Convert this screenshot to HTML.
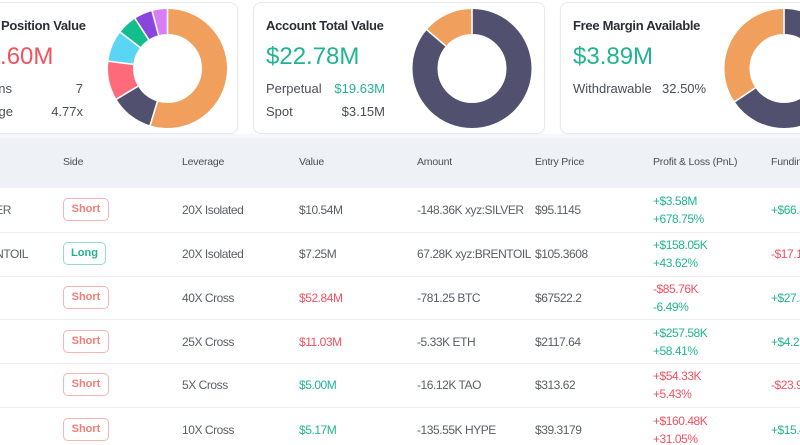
<!DOCTYPE html>
<html>
<head>
<meta charset="utf-8">
<style>
*{margin:0;padding:0;box-sizing:border-box;}
html,body{width:800px;height:445px;overflow:hidden;background:#fff;}
body{position:relative;font-family:"Liberation Sans",sans-serif;color:#555a63;}
.abs{position:absolute;white-space:nowrap;}
.card{position:absolute;top:2px;height:132px;width:292px;border:1px solid #e7e9ee;border-radius:8px;background:#fff;box-shadow:0 1px 2px rgba(0,0,0,0.03);}
.title{font-size:13px;font-weight:bold;color:#2b2e35;letter-spacing:-0.3px;}
.big{font-size:24px;}
.lbl{font-size:13px;color:#4a4e57;}
.hdr{position:absolute;left:0;top:138px;width:800px;height:50px;background:#eef1f5;}
.h{font-size:10.5px;color:#4a4f58;top:156px;letter-spacing:-0.2px;}
.sep{position:absolute;left:0;width:800px;height:1px;background:#eceef1;}
.t{font-size:12px;color:#5a5e66;letter-spacing:-0.45px;}
.abs.green,.t.green,.lbl.green{color:#22b393;}
.abs.red,.t.red,.lbl.red{color:#f2515f;}
.badge{position:absolute;left:63px;width:46px;height:23px;border:1px solid #f6b5b0;border-radius:5px;color:#f27d75;font-size:11px;font-weight:bold;text-align:center;line-height:21px;}
.badge.long{width:43px;border-color:#93dccb;color:#25b08f;}
</style>
</head>
<body>
<!-- cards -->
<div class="card" style="left:-54px;"></div>
<div class="card" style="left:253px;"></div>
<div class="card" style="left:560px;"></div>

<!-- strip between -->
<div class="abs" style="left:0;top:134px;width:800px;height:4px;background:#f5f7fa;"></div>

<!-- card 1 text -->
<div class="abs title" style="left:1px;top:18px;">Position Value</div>
<div class="abs big red" style="left:-40px;top:43px;">$21.60M</div>
<div class="abs lbl" style="right:788px;top:81px;">Positions</div>
<div class="abs lbl" style="right:717px;top:81px;">7</div>
<div class="abs lbl" style="right:787px;top:104px;">Avg Leverage</div>
<div class="abs lbl" style="right:717px;top:104px;">4.77x</div>

<!-- card 2 text -->
<div class="abs title" style="left:266px;top:18px;">Account Total Value</div>
<div class="abs big green" style="left:266px;top:43px;">$22.78M</div>
<div class="abs lbl" style="left:266px;top:81px;">Perpetual</div>
<div class="abs lbl green" style="right:415px;top:81px;">$19.63M</div>
<div class="abs lbl" style="left:266px;top:104px;">Spot</div>
<div class="abs lbl" style="right:415px;top:104px;">$3.15M</div>

<!-- card 3 text -->
<div class="abs title" style="left:573px;top:18px;">Free Margin Available</div>
<div class="abs big green" style="left:573px;top:43px;">$3.89M</div>
<div class="abs lbl" style="left:573px;top:81px;">Withdrawable</div>
<div class="abs lbl" style="left:662px;top:81px;">32.50%</div>

<!-- donuts -->
<svg class="abs" style="left:0;top:0;" width="800" height="140" viewBox="0 0 800 140">
  <g fill="none" stroke-width="25">
    <g transform="rotate(-90 167.5 68.5)">
      <circle cx="167.5" cy="68.5" r="47" stroke="#f0a05c" stroke-dasharray="161.6 295.31" stroke-dashoffset="0"/>
      <circle cx="167.5" cy="68.5" r="47" stroke="#51516f" stroke-dasharray="34.45 295.31" stroke-dashoffset="-161.6"/>
      <circle cx="167.5" cy="68.5" r="47" stroke="#ff6b7a" stroke-dasharray="31.17 295.31" stroke-dashoffset="-196.05"/>
      <circle cx="167.5" cy="68.5" r="47" stroke="#5ad6f4" stroke-dasharray="25.02 295.31" stroke-dashoffset="-227.22"/>
      <circle cx="167.5" cy="68.5" r="47" stroke="#12bf8c" stroke-dasharray="16.0 295.31" stroke-dashoffset="-252.24"/>
      <circle cx="167.5" cy="68.5" r="47" stroke="#8a45df" stroke-dasharray="14.77 295.31" stroke-dashoffset="-268.24"/>
      <circle cx="167.5" cy="68.5" r="47" stroke="#d77df5" stroke-dasharray="12.31 295.31" stroke-dashoffset="-283.0"/>
    </g>
    <g transform="rotate(-90 472 68.5)">
      <circle cx="472" cy="68.5" r="47" stroke="#51516f" stroke-dasharray="254.8 295.31" stroke-dashoffset="0"/>
      <circle cx="472" cy="68.5" r="47" stroke="#f0a05c" stroke-dasharray="40.51 295.31" stroke-dashoffset="-254.8"/>
    </g>
    <g transform="rotate(-90 784 68.5)">
      <circle cx="784" cy="68.5" r="47" stroke="#51516f" stroke-dasharray="193.6 295.31" stroke-dashoffset="0"/>
      <circle cx="784" cy="68.5" r="47" stroke="#f0a05c" stroke-dasharray="101.71 295.31" stroke-dashoffset="-193.6"/>
    </g>
  </g>
  <g stroke="#fff" stroke-width="1.6">
    <line x1="167.5" y1="34" x2="167.5" y2="8" transform="rotate(0 167.5 68.5)"/>
    <line x1="167.5" y1="34" x2="167.5" y2="8" transform="rotate(197 167.5 68.5)"/>
    <line x1="167.5" y1="34" x2="167.5" y2="8" transform="rotate(239 167.5 68.5)"/>
    <line x1="167.5" y1="34" x2="167.5" y2="8" transform="rotate(277 167.5 68.5)"/>
    <line x1="167.5" y1="34" x2="167.5" y2="8" transform="rotate(307.5 167.5 68.5)"/>
    <line x1="167.5" y1="34" x2="167.5" y2="8" transform="rotate(327 167.5 68.5)"/>
    <line x1="167.5" y1="34" x2="167.5" y2="8" transform="rotate(345 167.5 68.5)"/>
    <line x1="472" y1="34" x2="472" y2="8" transform="rotate(0 472 68.5)"/>
    <line x1="472" y1="34" x2="472" y2="8" transform="rotate(310.6 472 68.5)"/>
    <line x1="784" y1="34" x2="784" y2="8" transform="rotate(0 784 68.5)"/>
    <line x1="784" y1="34" x2="784" y2="8" transform="rotate(236 784 68.5)"/>
  </g>
</svg>

<!-- table header -->
<div class="hdr"></div>
<div class="abs h" style="left:63px;">Side</div>
<div class="abs h" style="left:182px;">Leverage</div>
<div class="abs h" style="left:299px;">Value</div>
<div class="abs h" style="left:417px;">Amount</div>
<div class="abs h" style="left:535px;">Entry Price</div>
<div class="abs h" style="left:653px;">Profit &amp; Loss (PnL)</div>
<div class="abs h" style="left:771px;">Funding</div>

<!-- separators -->
<div class="sep" style="top:232px;"></div>
<div class="sep" style="top:276px;"></div>
<div class="sep" style="top:319px;"></div>
<div class="sep" style="top:363px;"></div>
<div class="sep" style="top:407px;"></div>

<!-- row 1 -->
<div class="abs t" style="right:789px;top:203px;">SILVER</div>
<div class="badge" style="top:198px;">Short</div>
<div class="abs t" style="left:182px;top:203px;">20X Isolated</div>
<div class="abs t" style="left:299px;top:203px;">$10.54M</div>
<div class="abs t" style="left:417px;top:203px;">-148.36K xyz:SILVER</div>
<div class="abs t" style="left:535px;top:203px;">$95.1145</div>
<div class="abs t green" style="left:653px;top:194px;">+$3.58M</div>
<div class="abs t green" style="left:653px;top:212px;">+678.75%</div>
<div class="abs t green" style="left:771px;top:203px;">+$66.85K</div>

<!-- row 2 -->
<div class="abs t" style="right:772px;top:247px;">BRENTOIL</div>
<div class="badge long" style="top:242px;">Long</div>
<div class="abs t" style="left:182px;top:247px;">20X Isolated</div>
<div class="abs t" style="left:299px;top:247px;">$7.25M</div>
<div class="abs t" style="left:417px;top:247px;">67.28K xyz:BRENTOIL</div>
<div class="abs t" style="left:535px;top:247px;">$105.3608</div>
<div class="abs t green" style="left:653px;top:238px;">+$158.05K</div>
<div class="abs t green" style="left:653px;top:256px;">+43.62%</div>
<div class="abs t red" style="left:771px;top:247px;">-$17.12K</div>

<!-- row 3 -->
<div class="badge" style="top:286px;">Short</div>
<div class="abs t" style="left:182px;top:291px;">40X Cross</div>
<div class="abs t red" style="left:299px;top:291px;">$52.84M</div>
<div class="abs t" style="left:417px;top:291px;">-781.25 BTC</div>
<div class="abs t" style="left:535px;top:291px;">$67522.2</div>
<div class="abs t red" style="left:653px;top:282px;">-$85.76K</div>
<div class="abs t green" style="left:653px;top:300px;">-6.49%</div>
<div class="abs t green" style="left:771px;top:291px;">+$27.31K</div>

<!-- row 4 -->
<div class="badge" style="top:330px;">Short</div>
<div class="abs t" style="left:182px;top:335px;">25X Cross</div>
<div class="abs t red" style="left:299px;top:335px;">$11.03M</div>
<div class="abs t" style="left:417px;top:335px;">-5.33K ETH</div>
<div class="abs t" style="left:535px;top:335px;">$2117.64</div>
<div class="abs t green" style="left:653px;top:326px;">+$257.58K</div>
<div class="abs t green" style="left:653px;top:344px;">+58.41%</div>
<div class="abs t green" style="left:771px;top:335px;">+$4.21K</div>

<!-- row 5 -->
<div class="badge" style="top:373px;">Short</div>
<div class="abs t" style="left:182px;top:378px;">5X Cross</div>
<div class="abs t green" style="left:299px;top:378px;">$5.00M</div>
<div class="abs t" style="left:417px;top:378px;">-16.12K TAO</div>
<div class="abs t" style="left:535px;top:378px;">$313.62</div>
<div class="abs t red" style="left:653px;top:369px;">+$54.33K</div>
<div class="abs t red" style="left:653px;top:387px;">+5.43%</div>
<div class="abs t red" style="left:771px;top:378px;">-$23.95K</div>

<!-- row 6 -->
<div class="badge" style="top:418px;">Short</div>
<div class="abs t" style="left:182px;top:423px;">10X Cross</div>
<div class="abs t green" style="left:299px;top:423px;">$5.17M</div>
<div class="abs t" style="left:417px;top:423px;">-135.55K HYPE</div>
<div class="abs t" style="left:535px;top:423px;">$39.3179</div>
<div class="abs t red" style="left:653px;top:414px;">+$160.48K</div>
<div class="abs t red" style="left:653px;top:432px;">+31.05%</div>
<div class="abs t green" style="left:771px;top:423px;">+$15.42K</div>
</body>
</html>
